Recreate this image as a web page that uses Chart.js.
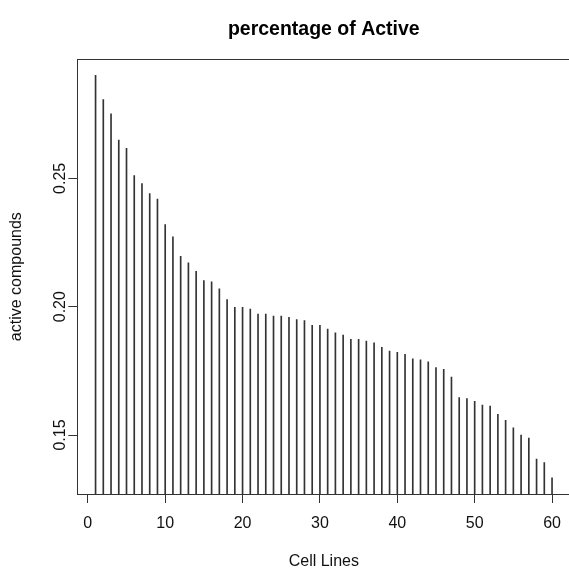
<!DOCTYPE html>
<html>
<head>
<meta charset="utf-8">
<script src="https://cdn.jsdelivr.net/npm/chart.js@4/dist/chart.umd.min.js"></script>
<style>
  html, body { margin: 0; padding: 0; background: #fff; overflow: hidden; }
  #plot { display: block; }
</style>
</head>
<body>
<canvas id="plot" width="572" height="570"></canvas>
<script>

// cell line index (sorted by activity) and fraction of active compounds
var cellLines = [1, 2, 3, 4, 5, 6, 7, 8, 9, 10, 11, 12, 13, 14, 15, 16, 17, 18, 19, 20,
  21, 22, 23, 24, 25, 26, 27, 28, 29, 30, 31, 32, 33, 34, 35, 36, 37, 38, 39, 40,
  41, 42, 43, 44, 45, 46, 47, 48, 49, 50, 51, 52, 53, 54, 55, 56, 57, 58, 59, 60];
var activeFraction = [0.2901, 0.2807, 0.2751, 0.2649, 0.2617, 0.2511, 0.2480, 0.2441, 0.2419, 0.2320,
  0.2272, 0.2196, 0.2171, 0.2138, 0.2102, 0.2097, 0.2070, 0.2028, 0.1997, 0.1997,
  0.1991, 0.1971, 0.1971, 0.1963, 0.1963, 0.1959, 0.1950, 0.1946, 0.1927, 0.1927,
  0.1913, 0.1898, 0.1889, 0.1873, 0.1873, 0.1866, 0.1859, 0.1842, 0.1827, 0.1822,
  0.1814, 0.1797, 0.1793, 0.1785, 0.1763, 0.1756, 0.1726, 0.1646, 0.1642, 0.1631,
  0.1617, 0.1613, 0.1581, 0.1557, 0.1528, 0.1500, 0.1488, 0.1406, 0.1393, 0.1333];

var xTicks = [0, 10, 20, 30, 40, 50, 60];
var yTicks = [0.15, 0.20, 0.25];

var FONT = '"Liberation Sans", Arial, sans-serif';
var mainTitle = 'percentage of Active';

// R style axis range: data range stretched by 4% on each side
function paddedRange(values){
  var lo = Math.min.apply(null, values);
  var hi = Math.max.apply(null, values);
  var pad = (hi - lo) * 0.04;
  return [lo - pad, hi + pad];
}

var xRange = paddedRange(cellLines);
var yRange = paddedRange(activeFraction);

// frame around the plotting region
var boxPlugin = {
  id: 'box',
  afterDraw: function(chart){
    var a = chart.chartArea;
    var ctx = chart.ctx;
    ctx.save();
    ctx.strokeStyle = '#333';
    ctx.lineWidth = 1;
    ctx.strokeRect(Math.round(a.left) + 0.5, Math.round(a.top) + 0.5,
      Math.round(a.right - a.left), Math.round(a.bottom - a.top));
    ctx.restore();
  }
};

// main title, centred over the plotting region like plot(main=...)
var mainTitlePlugin = {
  id: 'mainTitle',
  afterDraw: function(chart){
    var a = chart.chartArea;
    var ctx = chart.ctx;
    ctx.save();
    ctx.fillStyle = '#000';
    ctx.font = 'bold 19.5px ' + FONT;
    ctx.textAlign = 'center';
    ctx.textBaseline = 'middle';
    ctx.fillText(mainTitle, (a.left + a.right) / 2, 30);
    ctx.restore();
  }
};

var points = cellLines.map(function(c, i){ return {x: c, y: activeFraction[i]}; });

new Chart(document.getElementById('plot'), {
  type: 'bar',
  data: {
    datasets: [{
      data: points,
      backgroundColor: '#333',
      borderWidth: 0,
      barThickness: 1
    }]
  },
  options: {
    responsive: false,
    animation: false,
    layout: { padding: { left: 0, right: 1.6, top: 59.3, bottom: 0 } },
    plugins: {
      legend: { display: false },
      tooltip: { enabled: false },
      title: { display: false }
    },
    scales: {
      x: {
        type: 'linear',
        min: xRange[0],
        max: xRange[1],
        offset: false,
        afterBuildTicks: function(scale){
          scale.ticks = xTicks.map(function(v){ return {value: v}; });
        },
        afterFit: function(scale){ scale.height = 76; },
        grid: { display: true, offset: false, drawOnChartArea: false, drawTicks: true, tickLength: 9, color: '#333' },
        border: { display: true, color: '#333' },
        ticks: {
          color: '#111',
          padding: 11,
          maxRotation: 0,
          autoSkip: false,
          font: { family: FONT, size: 16 },
          callback: function(v){ return String(v); }
        },
        title: {
          display: true,
          text: 'Cell Lines',
          color: '#111',
          font: { family: FONT, size: 16 },
          padding: { top: 0, bottom: -1 }
        }
      },
      y: {
        min: yRange[0],
        max: yRange[1],
        afterBuildTicks: function(scale){
          scale.ticks = yTicks.map(function(v){ return {value: v}; });
        },
        afterFit: function(scale){ scale.width = 77.3; },
        grid: { display: true, drawOnChartArea: false, drawTicks: true, tickLength: 9, color: '#333' },
        border: { display: true, color: '#333' },
        ticks: {
          color: '#111',
          padding: -8,
          minRotation: 90,
          maxRotation: 90,
          crossAlign: 'center',
          autoSkip: false,
          font: { family: FONT, size: 16 },
          callback: function(v){ return v.toFixed(2); }
        },
        title: {
          display: true,
          text: 'active compounds',
          color: '#111',
          font: { family: FONT, size: 16 },
          padding: { top: 7.4, bottom: 0 }
        }
      }
    }
  },
  plugins: [boxPlugin, mainTitlePlugin]
});
</script>
</body>
</html>
